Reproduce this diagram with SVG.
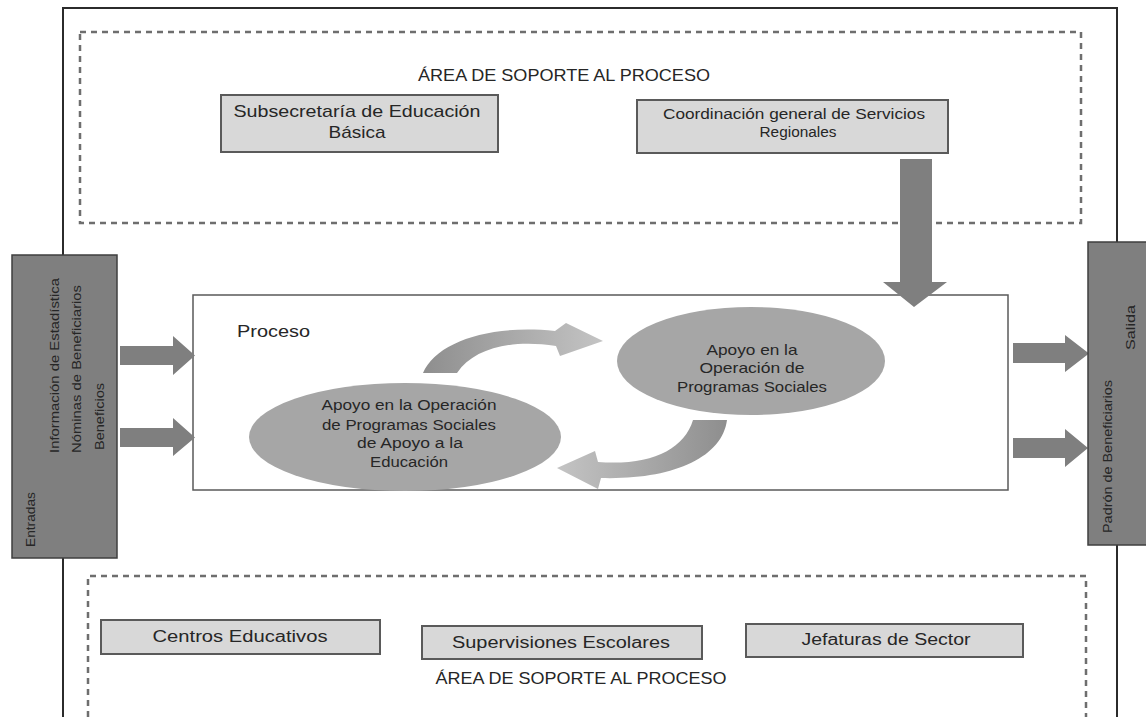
<svg xmlns="http://www.w3.org/2000/svg" width="1146" height="717" viewBox="0 0 1146 717">
<style>
.frame{fill:none;stroke:#2b2b2b;stroke-width:2}
.dash{fill:none;stroke:#6e6e6e;stroke-width:2.5;stroke-dasharray:6 5}
.lbox{fill:#d8d8d8;stroke:#5a5a5a;stroke-width:2}
.dbox{fill:#7f7f7f;stroke:#3f3f3f;stroke-width:1.5}
.proc{fill:#fff;stroke:#5a5a5a;stroke-width:1.5}
.ell{fill:#a6a6a6}
.arr{fill:#7f7f7f}
.t{font-family:"Liberation Sans",Arial,sans-serif;fill:#262626}
.c{text-anchor:middle}
</style>
<defs>
<linearGradient id="gTop" x1="0" y1="0" x2="1" y2="0">
<stop offset="0" stop-color="#8e8e8e"/><stop offset="1" stop-color="#c4c4c4"/>
</linearGradient>
<linearGradient id="gBot" x1="1" y1="0" x2="0" y2="0">
<stop offset="0" stop-color="#8e8e8e"/><stop offset="1" stop-color="#c4c4c4"/>
</linearGradient>
<radialGradient id="gEll" cx="0.5" cy="0.5" r="0.5">
<stop offset="0" stop-color="#a9a9a9"/><stop offset="0.9" stop-color="#a3a3a3"/><stop offset="1" stop-color="#b8b8b8"/>
</radialGradient>
</defs>

<g id="frame">
<path class="frame" d="M63 717 V8 H1117 V717"/>
</g>

<g id="soporte-top">
<rect class="dash" x="80" y="32" width="1001" height="191"/>
<text class="t c" x="564" y="81" font-size="17" textLength="292" lengthAdjust="spacingAndGlyphs">ÁREA DE SOPORTE AL PROCESO</text>
</g>

<g id="subsecretaria">
<rect class="lbox" x="221" y="95" width="277" height="57"/>
<text class="t c" x="357" y="117" font-size="17" textLength="247" lengthAdjust="spacingAndGlyphs">Subsecretaría de Educación</text>
<text class="t c" x="357" y="138" font-size="17" textLength="57" lengthAdjust="spacingAndGlyphs">Básica</text>
</g>

<g id="coordinacion">
<rect class="lbox" x="637" y="100" width="311" height="53"/>
<text class="t c" x="794" y="119" font-size="14" textLength="262" lengthAdjust="spacingAndGlyphs">Coordinación general de Servicios</text>
<text class="t c" x="798" y="137" font-size="14" textLength="77" lengthAdjust="spacingAndGlyphs">Regionales</text>
</g>

<g id="proceso">
<rect class="proc" x="193" y="295" width="815" height="195"/>
<text class="t" x="237" y="337" font-size="16" textLength="73" lengthAdjust="spacingAndGlyphs">Proceso</text>
</g>

<g id="connectors">
<path class="arr" d="M900 159 H932 V282 H947 L914 307 L883 282 H900 Z"/>
<path class="arr" d="M120 346 H173 V336 L195 355.5 L173 375 V365 H120 Z"/>
<path class="arr" d="M120 428 H173 V418 L195 437.5 L173 456 V447 H120 Z"/>
<path class="arr" d="M1013 343 H1065 V335 L1089 353.5 L1065 372 V363 H1013 Z"/>
<path class="arr" d="M1013 438 H1065 V429 L1088 448 L1065 467 V458 H1013 Z"/>
<path fill="url(#gTop)" d="M423 373 C436 342 490 324 555 331 L566 323 L603 341 L560 356 L556 346 C512 339 474 348 457 373 Z"/>
<path fill="url(#gBot)" d="M727 420 C722 458 672 480 601 478 L598 489 L557 468 L595 451 L598 462 C650 466 684 450 693 420 Z"/>
</g>

<g id="apoyo-educacion">
<ellipse class="ell" fill="url(#gEll)" cx="405" cy="437" rx="156" ry="54"/>
<text class="t c" x="409" y="410" font-size="15.5" textLength="175" lengthAdjust="spacingAndGlyphs">Apoyo en la Operación</text>
<text class="t c" x="409" y="430" font-size="15.5" textLength="174" lengthAdjust="spacingAndGlyphs">de Programas Sociales</text>
<text class="t c" x="410" y="448" font-size="15.5" textLength="106" lengthAdjust="spacingAndGlyphs">de Apoyo a la</text>
<text class="t c" x="409" y="467" font-size="15.5" textLength="78" lengthAdjust="spacingAndGlyphs">Educación</text>
</g>

<g id="apoyo-programas">
<ellipse class="ell" fill="url(#gEll)" cx="751" cy="361" rx="134" ry="54"/>
<text class="t c" x="752" y="355" font-size="14.5" textLength="91" lengthAdjust="spacingAndGlyphs">Apoyo en la</text>
<text class="t c" x="752" y="373" font-size="14.5" textLength="105" lengthAdjust="spacingAndGlyphs">Operación de</text>
<text class="t c" x="752" y="392" font-size="14.5" textLength="150" lengthAdjust="spacingAndGlyphs">Programas Sociales</text>
</g>

<g id="entradas">
<rect class="dbox" x="12" y="255" width="105" height="303"/>
<text class="t" font-size="13" transform="translate(35 547) rotate(-90)" textLength="55" lengthAdjust="spacingAndGlyphs">Entradas</text>
<text class="t" font-size="13" transform="translate(59 453) rotate(-90)" textLength="175" lengthAdjust="spacingAndGlyphs">Información de Estadística</text>
<text class="t" font-size="13" transform="translate(81 453) rotate(-90)" textLength="168" lengthAdjust="spacingAndGlyphs">Nóminas de Beneficiarios</text>
<text class="t" font-size="13" transform="translate(104 450) rotate(-90)" textLength="67" lengthAdjust="spacingAndGlyphs">Beneficios</text>
</g>

<g id="salida">
<rect class="dbox" x="1088" y="242" width="62" height="303"/>
<text class="t" font-size="13" transform="translate(1135 350) rotate(-90)" textLength="45" lengthAdjust="spacingAndGlyphs">Salida</text>
<text class="t" font-size="13" transform="translate(1112 533) rotate(-90)" textLength="153" lengthAdjust="spacingAndGlyphs">Padrón de Beneficiarios</text>
</g>

<g id="soporte-bottom">
<path class="dash" d="M88 717 V576 H1086 V717"/>
<text class="t c" x="581" y="684" font-size="17" textLength="291" lengthAdjust="spacingAndGlyphs">ÁREA DE SOPORTE AL PROCESO</text>
</g>

<g id="centros">
<rect class="lbox" x="101" y="620" width="279" height="34"/>
<text class="t c" x="240" y="642" font-size="16" textLength="175" lengthAdjust="spacingAndGlyphs">Centros Educativos</text>
</g>

<g id="supervisiones">
<rect class="lbox" x="422" y="626" width="280" height="33"/>
<text class="t c" x="561" y="648" font-size="16" textLength="218" lengthAdjust="spacingAndGlyphs">Supervisiones Escolares</text>
</g>

<g id="jefaturas">
<rect class="lbox" x="746" y="624" width="277" height="33"/>
<text class="t c" x="886" y="645" font-size="16" textLength="169" lengthAdjust="spacingAndGlyphs">Jefaturas de Sector</text>
</g>
</svg>
